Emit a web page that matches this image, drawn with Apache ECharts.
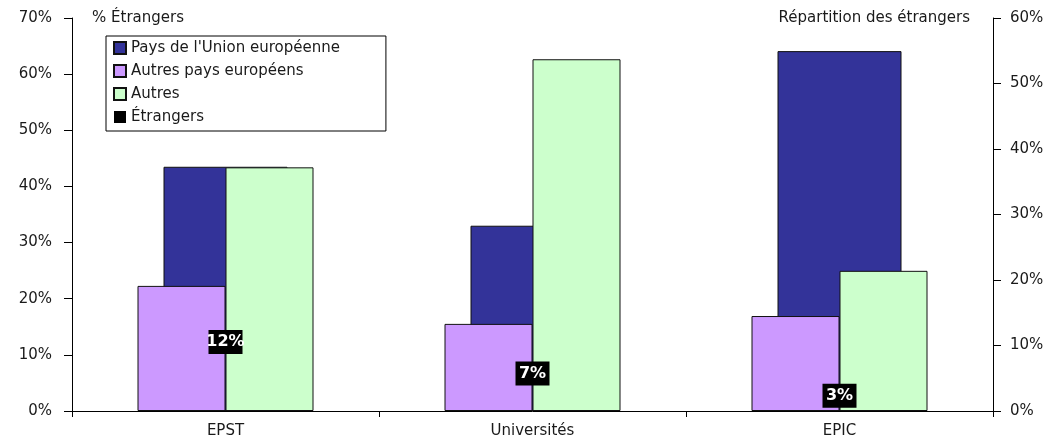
<!DOCTYPE html>
<html>
<head>
<meta charset="utf-8">
<script src="https://cdn.jsdelivr.net/npm/echarts@6/dist/echarts.min.js"></script>
<style>
html,body{margin:0;padding:0;background:#fff;}
#chart{width:1053px;height:440px;}
</style>
</head>
<body>
<div id="chart"></div>
<script>
var categories = ['EPST', 'Universités', 'EPIC'];
var seriesNames = ["Pays de l'Union européenne", 'Autres pays européens', 'Autres', 'Étrangers'];
var unionEuropeenne = [43.5, 33.0, 64.1];   // left axis
var autresEuropeens = [19.1, 13.3, 14.5];   // right axis
var autres = [37.2, 53.7, 21.4];            // right axis
var etrangers = [12.3, 6.7, 2.7];           // left axis
var leftTitle = '% Étrangers';
var rightTitle = 'Répartition des étrangers';

var FONT = 'DejaVu Sans';
var TXT = '#1a1a1a';

var chart = echarts.init(document.getElementById('chart'), null, {renderer: 'canvas'});
var option = {
  animation: false,
  backgroundColor: '#fff',
  textStyle: {fontFamily: FONT, color: TXT},
  grid: {left: 72, right: 60, top: 18, bottom: 29, containLabel: false},
  legend: {
    orient: 'vertical',
    left: 106, top: 36,
    data: seriesNames,
    icon: 'rect',
    itemWidth: 12, itemHeight: 12,
    itemGap: 7,
    padding: [4, 46, 6, 7],
    backgroundColor: '#fff',
    borderColor: '#000', borderWidth: 1, borderRadius: 0,
    textStyle: {fontFamily: FONT, fontSize: 15, color: TXT, lineHeight: 16},
    selectedMode: false
  },
  xAxis: [
    {
      type: 'category', data: categories, position: 'bottom',
      axisLine: {show: true, lineStyle: {color: '#000', width: 1}},
      axisTick: {show: true, length: 6, lineStyle: {color: '#000'}},
      axisLabel: {fontFamily: FONT, fontSize: 15, color: TXT, margin: 13},
      splitLine: {show: false}
    },
    {
      type: 'category', data: categories, position: 'bottom', show: false
    }
  ],
  yAxis: [
    {
      type: 'value', min: 0, max: 70, interval: 10, position: 'left',
      name: leftTitle, nameLocation: 'end', nameGap: 0,
      nameTextStyle: {fontFamily: FONT, fontSize: 15, color: TXT, align: 'left', verticalAlign: 'middle', padding: [0, 0, 0, 20]},
      axisLine: {show: true, lineStyle: {color: '#000', width: 1}},
      axisTick: {show: true, length: 8, lineStyle: {color: '#000'}},
      axisLabel: {formatter: '{value}%', fontFamily: FONT, fontSize: 15, color: TXT, margin: 20},
      splitLine: {show: false}
    },
    {
      type: 'value', min: 0, max: 60, interval: 10, position: 'right',
      name: rightTitle, nameLocation: 'end', nameGap: 0,
      nameTextStyle: {fontFamily: FONT, fontSize: 15, color: TXT, align: 'right', verticalAlign: 'middle', padding: [0, 23, 0, 0]},
      axisLine: {show: true, lineStyle: {color: '#000', width: 1}},
      axisTick: {show: true, length: 8, lineStyle: {color: '#000'}},
      axisLabel: {formatter: '{value}%', fontFamily: FONT, fontSize: 15, color: TXT, margin: 17},
      splitLine: {show: false}
    }
  ],
  series: [
    {
      name: seriesNames[0], type: 'bar', xAxisIndex: 1, yAxisIndex: 0,
      barWidth: 124, data: unionEuropeenne,
      itemStyle: {color: '#333399', borderColor: '#111', borderWidth: 1}
    },
    {
      name: seriesNames[1], type: 'bar', xAxisIndex: 0, yAxisIndex: 1,
      barWidth: 88, barGap: '0%', data: autresEuropeens,
      itemStyle: {color: '#CC99FF', borderColor: '#111', borderWidth: 1}
    },
    {
      name: seriesNames[2], type: 'bar', xAxisIndex: 0, yAxisIndex: 1,
      barWidth: 88, barGap: '0%', data: autres,
      itemStyle: {color: '#CCFFCC', borderColor: '#111', borderWidth: 1}
    },
    {
      name: seriesNames[3], type: 'scatter', xAxisIndex: 0, yAxisIndex: 0,
      symbol: 'rect', symbolSize: [34, 24], data: etrangers, z: 5,
      itemStyle: {color: '#000', opacity: 1},
      emphasis: {disabled: true},
      label: {
        show: true, position: 'inside', color: '#fff', fontWeight: 'bold',
        fontFamily: FONT, fontSize: 16, opacity: 1,
        formatter: function (p) { return Math.round(p.value) + '%'; }
      }
    }
  ]
};
chart.setOption(option);
</script>
</body>
</html>
